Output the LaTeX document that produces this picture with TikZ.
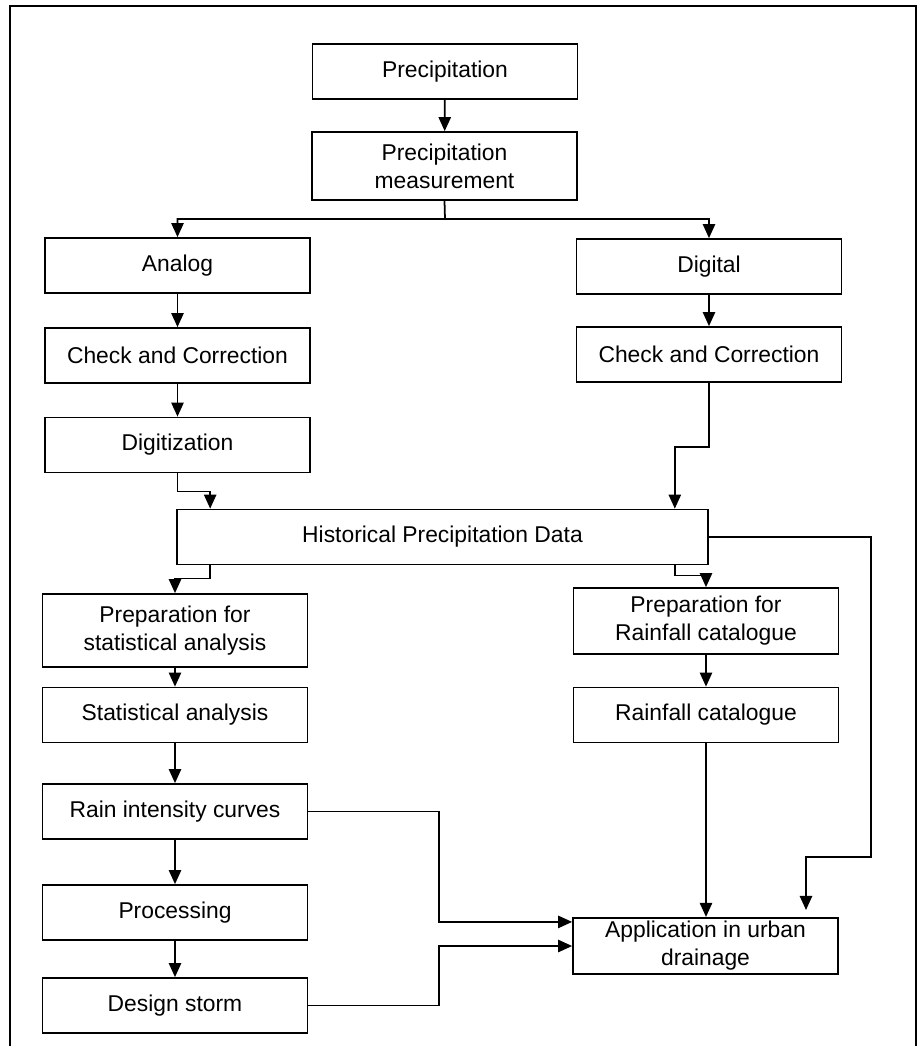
\documentclass[tikz,border=0pt]{standalone}
\usepackage{fontspec}
\setmainfont{Liberation Sans}
\usetikzlibrary{arrows.meta,positioning,calc}

\begin{document}
\begin{tikzpicture}[
  x=0.02cm, y=-0.02cm,
  box/.style={draw, line width=1pt, minimum width=5.3cm, minimum height=1.1cm, align=center, inner sep=2pt, font=\fontsize{13}{16}\selectfont},
  flow/.style={-{Triangle[length=8pt, width=7pt]}, line width=1pt},
  frame/.style={line width=1.6pt},
]
  \useasboundingbox (0,0) rectangle (918,1046);
  \draw[frame] (10,1046) -- (10,6) -- (916,6) -- (916,1046);

  % Measurement
  \node[box] (prec) at (445,71.5) {Precipitation};
  \node[box, minimum height=1.36cm] (meas) at (444.5,166) {Precipitation\\measurement};
  \node[box] (analog) at (177.5,265.5) {Analog};
  \node[box] (digital) at (709,266.5) {Digital};
  \node[box] (checka) at (177.5,355.5) {Check and Correction};
  \node[box] (checkd) at (709,354.5) {Check and Correction};
  \node[box] (digit) at (177.5,445) {Digitization};
  \node[box, minimum width=10.62cm] (hist) at (442.5,537) {Historical Precipitation Data};

  % Processing
  \node[box, minimum height=1.46cm] (preps) at (175,630.5) {Preparation for\\statistical analysis};
  \node[box, minimum height=1.32cm] (prepr) at (706,621) {Preparation for\\Rainfall catalogue};
  \node[box] (stat) at (175,715) {Statistical analysis};
  \node[box] (cat) at (706,715) {Rainfall catalogue};
  \node[box] (rain) at (175,811.5) {Rain intensity curves};
  \node[box] (proc) at (175,912.5) {Processing};
  \node[box] (storm) at (175,1005.5) {Design storm};
  \node[box] (app) at (705.5,946) {Application in urban\\drainage};

  \coordinate (split) at (445,219);
  \coordinate (bend) at (871,857);
  \coordinate (drop) at (806,910);

  % Arrows
  \draw[flow] (prec) -- (meas);
  \draw[flow] (meas.south) -- (split) -| (analog.north);
  \draw[flow] (split) -| (digital.north);
  \draw[flow] (analog) -- (checka);
  \draw[flow] (checka) -- (digit);
  \draw[flow] (digital) -- (checkd);
  \draw[flow] (digit.south) -- ++(0,18) -| ($(hist.north west)+(34,0)$);
  \draw[flow] (checkd.south) -- ++(0,64) -| ($(hist.north east)+(-34,0)$);
  \draw[flow] ($(hist.south west)+(34,0)$) -- ++(0,13) -| (preps.north);
  \draw[flow] ($(hist.south east)+(-34,0)$) -- ++(0,10) -| (prepr.north);
  \draw[flow] (hist.east) -| (bend) -| (drop);
  \draw[flow] (preps) -- (stat);
  \draw[flow] (stat) -- (rain);
  \draw[flow] (rain) -- (proc);
  \draw[flow] (proc) -- (storm);
  \draw[flow] (prepr) -- (cat);
  \draw[flow] (cat.south) -- (cat.south |- app.north);
  \draw[flow] (rain.east) -- ++(131,0) |- ($(app.north west)+(0,5)$);
  \draw[flow] (storm.east) -- ++(131,0) |- (app.west);
\end{tikzpicture}
\end{document}
